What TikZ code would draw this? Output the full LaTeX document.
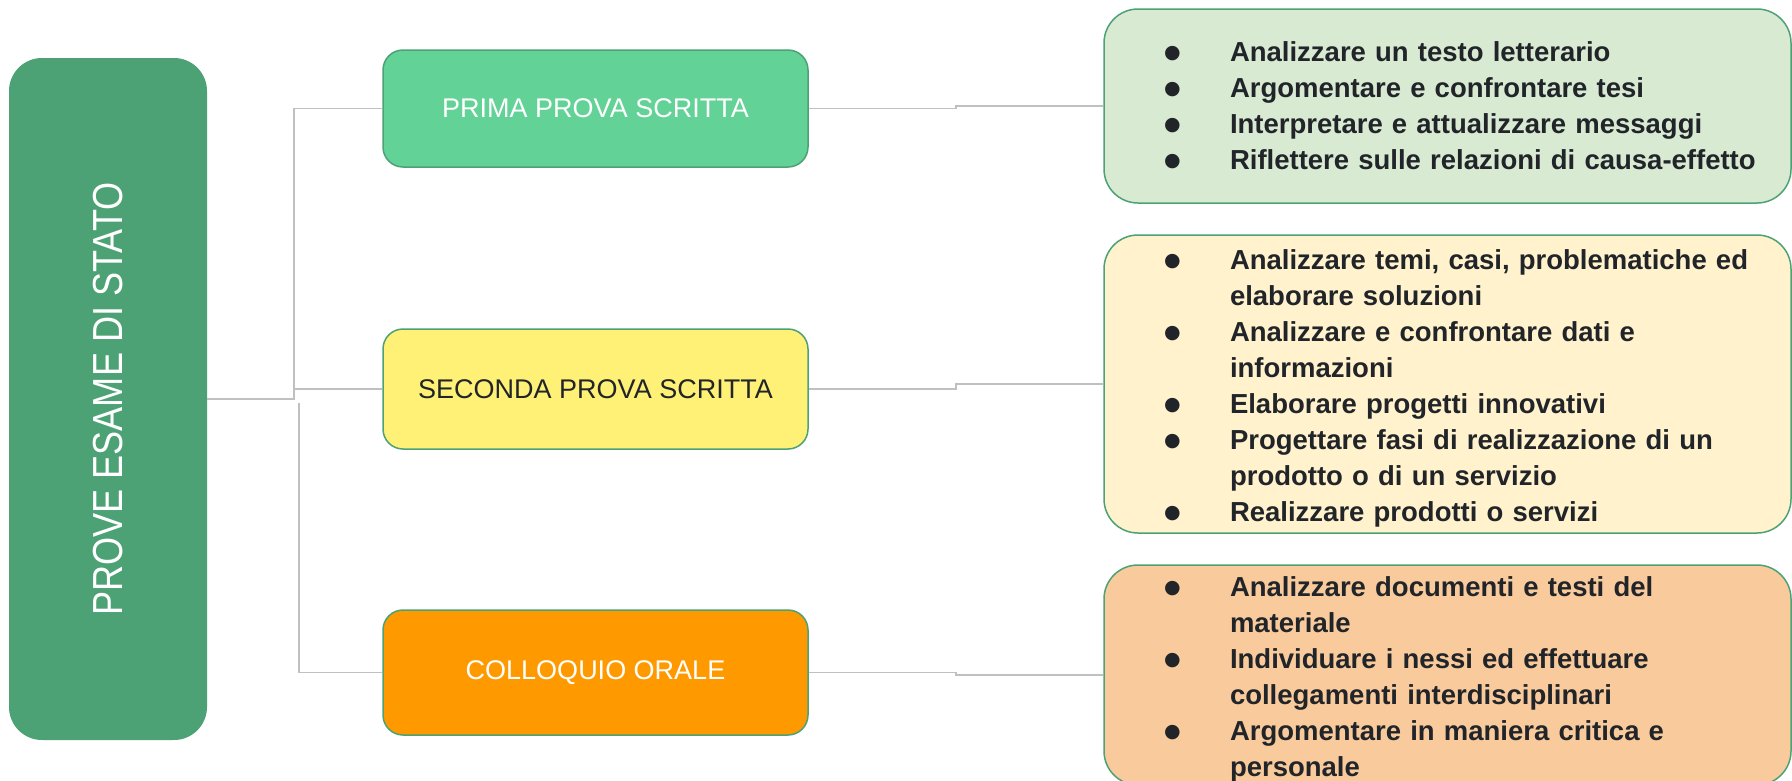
\documentclass[tikz,border=0pt]{standalone}
\usepackage{fontspec}
\setmainfont{Liberation Sans}
\newfontfamily\dotfont{DejaVu Sans}
\usetikzlibrary{calc}

\definecolor{mainGreen}{RGB}{76,162,117}
\definecolor{primaFill}{RGB}{99,210,151}
\definecolor{secondaFill}{RGB}{255,240,118}
\definecolor{oraleFill}{RGB}{255,153,0}
\definecolor{panelPrima}{RGB}{217,234,211}
\definecolor{panelSeconda}{RGB}{255,242,204}
\definecolor{panelOrale}{RGB}{249,203,156}
\definecolor{lineGray}{RGB}{192,192,192}
\definecolor{darkText}{RGB}{33,37,41}

\newcommand{\bul}{\makebox[126pt][l]{\hspace{60pt}\raisebox{3pt}{\dotfont\fontsize{19}{20}\selectfont ●}}}
\newcommand{\cont}{\hspace*{126pt}}

\begin{document}
\begin{tikzpicture}[x=1pt,y=-1pt,
  link/.style={draw=lineGray,line width=1.5pt},
  prova/.style={draw=mainGreen,line width=1.5pt,rounded corners=20pt,minimum width=425pt,inner sep=0pt,font=\fontsize{27}{32}\selectfont},
  panel/.style={draw=mainGreen,line width=1.5pt,rounded corners=34pt,minimum width=687pt,text width=687pt,inner sep=0pt,align=left,text=darkText,font=\bfseries\fontsize{27.5}{36}\selectfont}]
\useasboundingbox (0,0) rectangle (1792,780);

\node [fill=mainGreen,rounded corners=33pt,rotate=90,minimum width=682pt,minimum height=198pt,inner sep=0pt,text=white] (main) at (108,399) {\scalebox{0.86}[1]{\fontsize{42}{50}\selectfont PROVE ESAME DI STATO}};

\node [prova,fill=primaFill,minimum height=117pt,text=white] (prima) at (595.5,108.5) {PRIMA PROVA SCRITTA};
\node [prova,fill=secondaFill,minimum height=120pt,text=darkText] (seconda) at (595.5,389) {SECONDA PROVA SCRITTA};
\node [prova,fill=oraleFill,minimum height=125pt,text=white] (colloquio) at (595.5,672.5) {COLLOQUIO ORALE};

\node [panel,fill=panelPrima,minimum height=194pt] (obPrima) at (1447.5,106) {\bul Analizzare un testo letterario\\ \bul Argomentare e confrontare tesi\\ \bul Interpretare e attualizzare messaggi\\ \bul Riflettere sulle relazioni di causa-effetto};

\node [panel,fill=panelSeconda,minimum height=298pt] (obSeconda) at (1447.5,384) {\rule{0pt}{28pt}\bul Analizzare temi, casi, problematiche ed\\ \cont elaborare soluzioni\\ \bul Analizzare e confrontare dati e\\ \cont informazioni\\ \bul Elaborare progetti innovativi\\ \bul Progettare fasi di realizzazione di un\\ \cont prodotto o di un servizio\\ \bul Realizzare prodotti o servizi};

\node [panel,fill=panelOrale,minimum height=220pt] (obOrale) at (1447.5,675) {\rule{0pt}{28pt}\bul Analizzare documenti e testi del\\ \cont materiale\\ \bul Individuare i nessi ed effettuare\\ \cont collegamenti interdisciplinari\\ \bul Argomentare in maniera critica e\\ \cont personale};

\coordinate (fork) at (294,399);
\coordinate (forkLow) at (299,403);
\draw [link] (main.south) -- (fork) |- (prima.west);
\draw [link] (fork) |- (seconda.west);
\draw [link] (forkLow) |- (colloquio.west);

\draw [link] (prima.east) -- ++(147,0) |- (obPrima.west);
\draw [link] (seconda.east) -- ++(147,0) |- (obSeconda.west);
\draw [link] (colloquio.east) -- ++(147,0) |- (obOrale.west);

\end{tikzpicture}
\end{document}
